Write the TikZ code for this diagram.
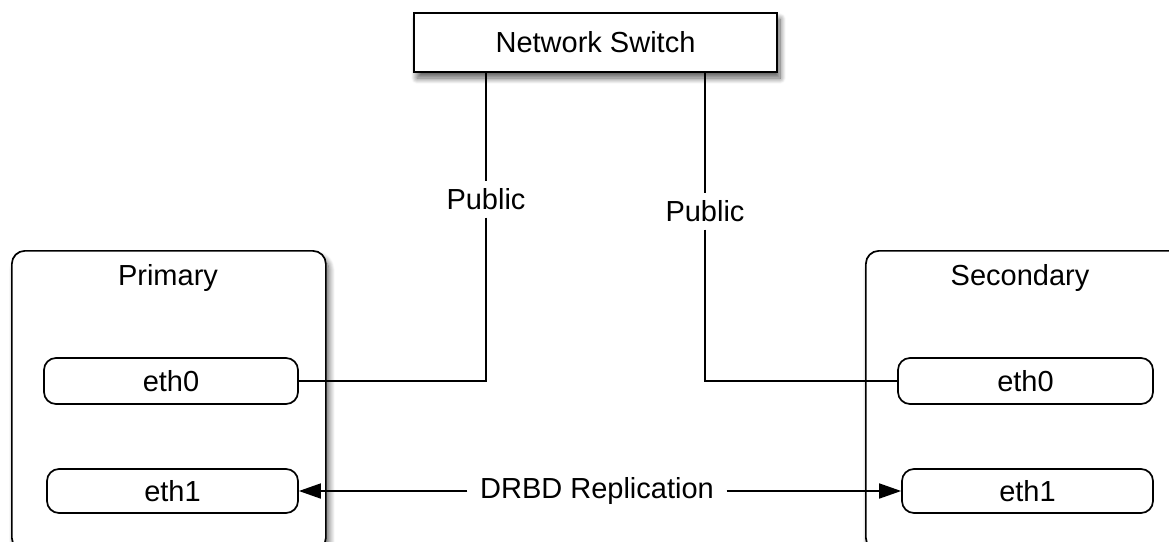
\documentclass[tikz,border=0pt]{standalone}
\usepackage{fontspec}
\setmainfont{Liberation Sans}
\usetikzlibrary{arrows.meta,shadows.blur}

\begin{document}
\begin{tikzpicture}[x=1pt,y=-1pt,line width=1.7pt,
  every node/.style={font=\fontsize{29}{34}\selectfont},
  softshadow/.style={blur shadow={shadow xshift=3pt,shadow yshift=-6pt,
      shadow blur radius=6pt,shadow blur steps=12,shadow opacity=65}},
  switchbox/.style={draw,fill=white,softshadow,minimum width=363pt,minimum height=59pt,inner sep=0pt},
  hostbox/.style={draw,fill=white,rounded corners=13pt,softshadow,inner sep=0pt},
  nicbox/.style={draw,fill=white,rounded corners=12pt,inner sep=0pt,minimum height=46pt},
  linklabel/.style={fill=white,inner xsep=2pt,inner ysep=7pt},
  tip/.style={-{Triangle[length=22pt,width=15pt]}}
]
\useasboundingbox (0,0) rectangle (1169,541);

% switch at the top
\node[switchbox] (switch) at (595.5,42.5) {Network Switch};
\coordinate (swL) at (486,72);
\coordinate (swR) at (705,72);

% hosts
\node[hostbox,anchor=north west,minimum width=314pt,minimum height=300pt] (prim) at (11,250) {};
\node[hostbox,anchor=north west,minimum width=320pt,minimum height=300pt] (sec) at (865,250) {};
\node (primlbl) at (168,278) {Primary};
\node (seclbl) at (1020,278) {Secondary};

% network interfaces
\node[nicbox,minimum width=254pt] (p0) at (171,381) {eth0};
\node[nicbox,minimum width=251pt,minimum height=44pt] (p1) at (172.5,491) {eth1};
\node[nicbox,minimum width=255pt] (s0) at (1025.5,381) {eth0};
\node[nicbox,minimum width=251pt,minimum height=44pt] (s1) at (1027.5,491) {eth1};

% public links to the switch
\node[linklabel] (pubL) at (486,199) {Public};
\node[linklabel] (pubR) at (705,211) {Public};
\draw (swL) -- (pubL.north);
\draw (pubL.south) |- (p0.east);
\draw (swR) -- (pubR.north);
\draw (pubR.south) |- (s0.west);

% replication link
\node[fill=white,inner xsep=12pt] (drbd) at (597,491) {DRBD Replication};
\draw[tip] (drbd.west) -- (p1.east);
\draw[tip] (drbd.east) -- (s1.west);
\end{tikzpicture}
\end{document}
